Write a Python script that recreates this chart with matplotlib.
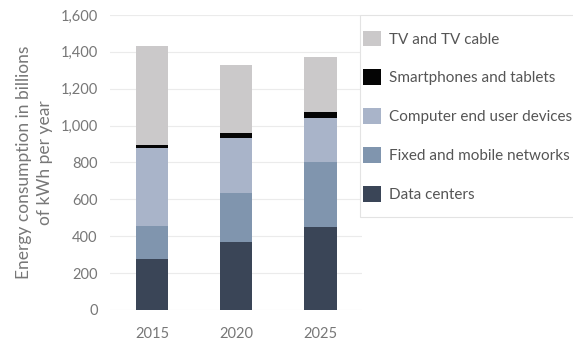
import matplotlib.pyplot as plt
from matplotlib.patches import Rectangle
import numpy as np

plt.rcParams['font.family'] = ['Lato', 'DejaVu Sans']

years = ['2015', '2020', '2025']
data_centers = [275, 370, 452]
networks = [180, 262, 352]
computers = [422, 298, 235]
smartphones = [15, 27, 36]
tv = [540, 371, 295]

series = [
    ('Data centers', data_centers, '#3a4557'),
    ('Fixed and mobile networks', networks, '#8095ae'),
    ('Computer end user devices', computers, '#a9b4c9'),
    ('Smartphones and tablets', smartphones, '#050505'),
    ('TV and TV cable', tv, '#cbc9ca'),
]

fig = plt.figure(figsize=(5.73, 3.47), dpi=100)
ax = fig.add_axes([0.192, 0.107, 0.44, 0.85])

x = np.arange(len(years))
bottom = np.zeros(len(years))
for name, vals, color in series:
    ax.bar(x, vals, width=0.39, bottom=bottom, color=color, label=name, zorder=3)
    bottom += np.array(vals)

txt = '#777777'
ax.set_ylim(0, 1600)
ax.set_xlim(-0.5, 2.5)
ax.set_yticks(range(0, 1601, 200))
ax.set_yticklabels(['{:,}'.format(v) for v in range(0, 1601, 200)])
ax.set_xticks(x)
ax.set_xticklabels(years)
ax.yaxis.grid(True, color='#ebebeb', linewidth=0.8, zorder=0)
for s in ax.spines.values():
    s.set_visible(False)
ax.tick_params(length=0, labelsize=10.5, colors=txt, pad=9)
ax.tick_params(axis='x', pad=12)
ax.set_ylabel('Energy consumption in billions\nof kWh per year', fontsize=12.5,
              color=txt, labelpad=5, linespacing=1.4)

# legend box, cut by the right edge as in the original
fig.patches.append(Rectangle((0.628, 0.375), 0.4, 0.582, transform=fig.transFigure,
                             facecolor='white', edgecolor='#e3e3e3', linewidth=0.8,
                             zorder=4))

handles, labels = ax.get_legend_handles_labels()
leg = fig.legend(handles[::-1], labels[::-1], loc='upper left',
                 bbox_to_anchor=(0.633, 0.912), bbox_transform=fig.transFigure,
                 borderaxespad=0, borderpad=0, fontsize=11, frameon=False,
                 handlelength=1.2, handleheight=1.2, labelspacing=1.5,
                 handletextpad=0.5, labelcolor='#555555')
leg.set_zorder(5)

fig.savefig('out.png', dpi=100)
